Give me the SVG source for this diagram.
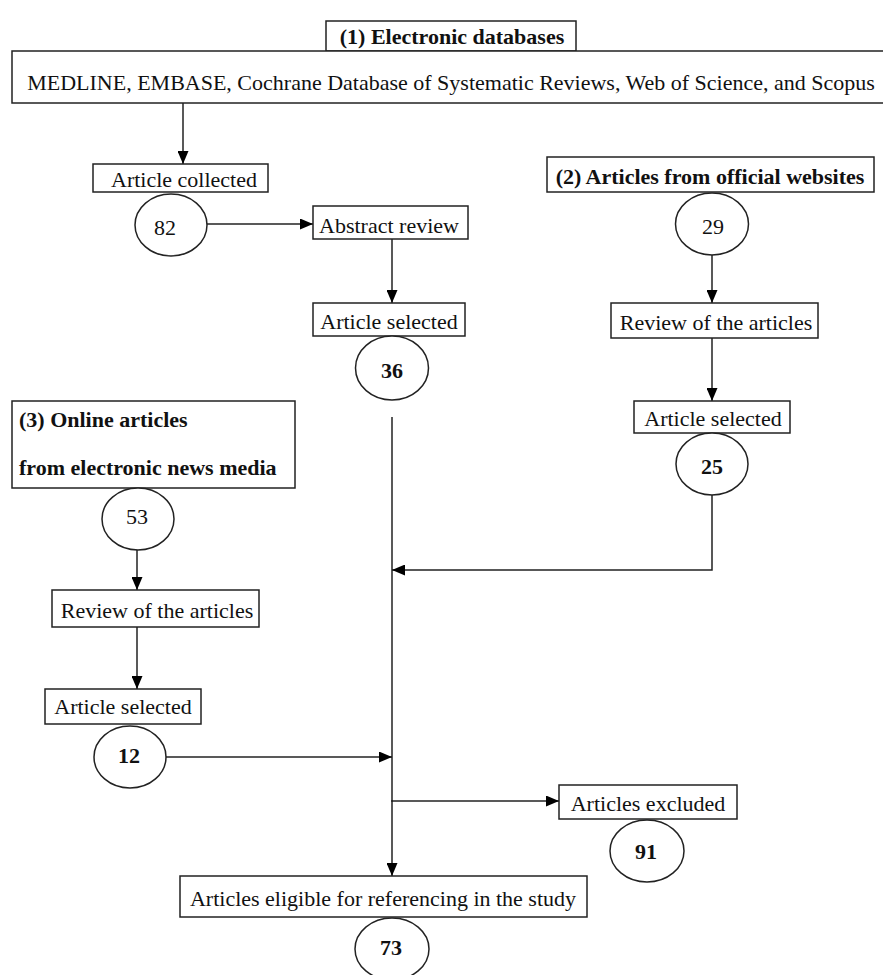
<svg xmlns="http://www.w3.org/2000/svg" width="883" height="975" viewBox="0 0 883 975">
<defs>
<marker id="ah" markerWidth="13" markerHeight="11" refX="13" refY="5.5" orient="auto" markerUnits="userSpaceOnUse">
<path d="M0,0 L13,5.5 L0,11 Z" fill="#000"/>
</marker>
<style>
rect, ellipse { fill: #fff; stroke: #222; stroke-width: 1.5; }
.c line, .c polyline { stroke: #222; stroke-width: 1.5; fill: none; }
.a { marker-end: url(#ah); }
text { font-family: "Liberation Serif", "Times New Roman", serif; font-size: 22px; fill: #111; }
.m { text-anchor: middle; dominant-baseline: central; }
.b { font-weight: bold; }
</style>
</defs>
<rect width="883" height="975" fill="#fff" style="stroke:none"/>

<g class="c" id="connectors">
<line class="a" x1="183" y1="103" x2="183" y2="164"/>
<line class="a" x1="207" y1="224" x2="313" y2="224"/>
<line class="a" x1="392" y1="239" x2="392" y2="303"/>
<line class="a" x1="712" y1="255" x2="712" y2="303"/>
<line class="a" x1="712" y1="338" x2="712" y2="401"/>
<line class="a" x1="137" y1="550" x2="137" y2="590"/>
<line class="a" x1="137" y1="627" x2="137" y2="689"/>
<line x1="392" y1="417" x2="392" y2="802"/>
<polyline class="a" points="712,495 712,570 392,570"/>
<line class="a" x1="166" y1="757" x2="392" y2="757"/>
<line class="a" x1="392" y1="801" x2="559" y2="801"/>
<line class="a" x1="392" y1="800" x2="392" y2="876"/>
</g>

<g id="n1">
<rect x="326" y="21" width="250" height="30"/>
<text class="m b" x="452" y="36">(1) Electronic databases</text>
</g>
<g id="db">
<rect x="12" y="51" width="874" height="52"/>
<text class="m" x="451" y="82">MEDLINE, EMBASE, Cochrane Database of Systematic Reviews, Web of Science, and Scopus</text>
</g>
<g id="collected">
<rect x="93" y="164" width="175" height="28"/>
<text class="m" x="184" y="179">Article collected</text>
</g>
<g id="e82">
<ellipse cx="171" cy="225" rx="36" ry="31"/>
<text class="m" x="165" y="227">82</text>
</g>
<g id="abstract">
<rect x="313" y="206" width="155" height="33"/>
<text class="m" x="389" y="225">Abstract review</text>
</g>
<g id="sel1">
<rect x="313" y="303" width="152" height="33"/>
<text class="m" x="389" y="321">Article selected</text>
</g>
<g id="e36">
<ellipse cx="392" cy="368" rx="36.5" ry="32"/>
<text class="m b" x="392" y="370">36</text>
</g>

<g id="n2">
<rect x="547" y="157" width="327" height="35"/>
<text class="m b" x="710" y="176">(2) Articles from official websites</text>
</g>
<g id="e29">
<ellipse cx="712" cy="224" rx="36.5" ry="31"/>
<text class="m" x="713" y="226">29</text>
</g>
<g id="rev2">
<rect x="611" y="303" width="207" height="35"/>
<text class="m" x="716" y="322">Review of the articles</text>
</g>
<g id="sel2">
<rect x="634" y="401" width="156" height="32"/>
<text class="m" x="713" y="418">Article selected</text>
</g>
<g id="e25">
<ellipse cx="712" cy="464" rx="36" ry="31"/>
<text class="m b" x="712" y="466">25</text>
</g>

<g id="n3">
<rect x="12" y="401" width="283" height="87"/>
<text class="b" x="19" y="419" dominant-baseline="central">(3) Online articles</text>
<text class="b" x="19" y="467" dominant-baseline="central">from electronic news media</text>
</g>
<g id="e53">
<ellipse cx="138" cy="519" rx="36" ry="31"/>
<text class="m" x="137" y="516">53</text>
</g>
<g id="rev3">
<rect x="52" y="590" width="207" height="37"/>
<text class="m" x="157" y="610">Review of the articles</text>
</g>
<g id="sel3">
<rect x="45" y="689" width="156" height="35"/>
<text class="m" x="123" y="706">Article selected</text>
</g>
<g id="e12">
<ellipse cx="130" cy="757" rx="36" ry="31"/>
<text class="m b" x="129" y="755">12</text>
</g>

<g id="excluded">
<rect x="559" y="785" width="178" height="34"/>
<text class="m" x="648" y="803">Articles excluded</text>
</g>
<g id="e91">
<ellipse cx="647" cy="851" rx="37" ry="31"/>
<text class="m b" x="646" y="851">91</text>
</g>
<g id="eligible">
<rect x="180" y="876" width="407" height="41"/>
<text class="m" x="383" y="898">Articles eligible for referencing in the study</text>
</g>
<g id="e73">
<ellipse cx="392" cy="949" rx="37" ry="31"/>
<text class="m b" x="391" y="947">73</text>
</g>
</svg>
